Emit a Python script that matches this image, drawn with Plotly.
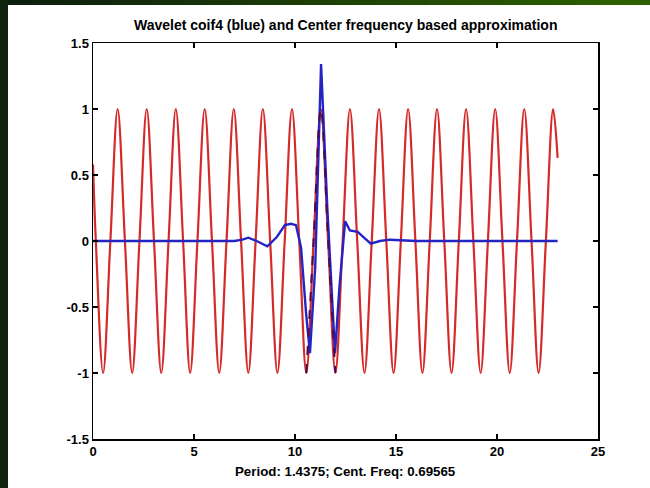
import plotly.graph_objects as go

# ---- data ----
red_x = [0.0, 0.14, 0.50, 0.86, 1.22, 1.58, 1.94, 2.30, 2.66, 3.02, 3.38, 3.74, 4.10, 4.46, 4.81,
         5.17, 5.53, 5.89, 6.25, 6.61, 6.97, 7.33, 7.69, 8.05, 8.41, 8.77, 9.13, 9.49, 9.85,
         10.21, 10.56, 10.92, 11.28, 11.64, 12.00, 12.36, 12.72, 13.08, 13.44, 13.80, 14.16,
         14.52, 14.88, 15.24, 15.60, 15.96, 16.31, 16.67, 17.03, 17.39, 17.75, 18.11, 18.47,
         18.83, 19.19, 19.55, 19.91, 20.27, 20.63, 20.99, 21.35, 21.71, 22.06, 22.42, 22.78, 23.0]
red_y = [0.58, 0, -1, 0, 1, 0, -1, 0, 1, 0, -1, 0, 1, 0, -1,
         0, 1, 0, -1, 0, 1, 0, -1, 0, 1, 0, -1, 0, 1,
         0, -1, 0, 1, 0, -1, 0, 1, 0, -1, 0, 1,
         0, -1, 0, 1, 0, -1, 0, 1, 0, -1, 0, 1,
         0, -1, 0, 1, 0, -1, 0, 1, 0, -1, 0, 1, 0.63]

blue_x = [0.0, 7.0, 7.4, 7.69, 8.1, 8.63, 9.1, 9.5, 9.8, 10.05, 10.3, 10.55, 10.74, 11.0,
          11.29, 11.6, 11.98, 12.2, 12.48, 12.72, 13.1, 13.45, 13.75, 14.2, 14.7, 16.0, 23.0]
blue_y = [0.0, 0.0, 0.01, 0.025, 0.0, -0.04, 0.03, 0.12, 0.13, 0.12, -0.05, -0.55, -0.85, -0.2,
          1.34, 0.25, -0.85, -0.35, 0.15, 0.08, 0.07, 0.02, -0.02, 0.0, 0.01, 0.0, 0.0]

approx_x = [10.56, 10.92, 11.28, 11.64, 12.00]
approx_y = [-1, 0, 1, 0, -1]

x_ticks = [0, 5, 10, 15, 20, 25]
y_ticks = [-1.5, -1, -0.5, 0, 0.5, 1, 1.5]
y_tick_text = ["-1.5", "-1", "-0.5", "0", "0.5", "1", "1.5"]

title_text = "<b>Wavelet coif4 (blue) and Center frequency based approximation</b>"
xlabel_text = "<b>Period: 1.4375; Cent. Freq: 0.69565</b>"

# ---- layout geometry (pixels) ----
W, H = 650, 488
L, R, T, B = 93, 598, 43, 439


def px_x(p):
    return (p - L) / (R - L)


def px_y(p):
    return (B - p) / (B - T)


fig = go.Figure()
fig.add_trace(go.Scatter(x=red_x, y=red_y, mode="lines", line=dict(color="#d42a2a", width=2.2, shape="spline"),
                         hoverinfo="skip"))
fig.add_trace(go.Scatter(x=blue_x, y=blue_y, mode="lines", line=dict(color="#2424c4", width=2.4),
                         hoverinfo="skip"))
fig.add_trace(go.Scatter(x=approx_x, y=approx_y, mode="lines",
                         line=dict(color="#4a0a50", width=2, dash="dash", shape="spline"), hoverinfo="skip"))

shapes = []
# left dark strip
shapes.append(dict(type="rect", xref="paper", yref="paper", x0=px_x(0), x1=px_x(8), y0=px_y(H), y1=px_y(0),
                   fillcolor="#10230f", line=dict(width=0), layer="below"))
# top gradient strip
n = 26
c0 = (14, 30, 14)
c1 = (46, 98, 0)
for i in range(n):
    t = i / (n - 1)
    c = tuple(int(c0[k] + (c1[k] - c0[k]) * t) for k in range(3))
    xa = 8 + (W - 8) * i / n
    xb = 8 + (W - 8) * (i + 1) / n + 1
    shapes.append(dict(type="rect", xref="paper", yref="paper", x0=px_x(xa), x1=px_x(xb), y0=px_y(5), y1=px_y(0),
                       fillcolor="rgb(%d,%d,%d)" % c, line=dict(width=0), layer="below"))

tick_font = dict(family="Liberation Sans, Arial, sans-serif", size=13, color="black", weight="bold")

fig.update_layout(
    width=W, height=H,
    margin=dict(l=L, r=W - R, t=T, b=H - B, pad=0),
    paper_bgcolor="white", plot_bgcolor="white",
    showlegend=False,
    shapes=shapes,
    font=dict(family="Liberation Sans, Arial, sans-serif", size=12, color="black"),
    xaxis=dict(range=[0, 25], tickvals=x_ticks, ticks="inside", ticklen=5, tickwidth=1.5, tickcolor="black",
               showline=True, linecolor="black", linewidth=1.5, mirror="ticks", showgrid=False, zeroline=False,
               tickfont=tick_font),
    yaxis=dict(range=[-1.5, 1.5], tickvals=y_ticks, ticktext=y_tick_text, ticks="inside", ticklen=5,
               tickwidth=1.5, tickcolor="black", showline=True, linecolor="black", linewidth=1.5,
               mirror="ticks", showgrid=False, zeroline=False, tickfont=tick_font),
    annotations=[
        dict(text=title_text, xref="paper", yref="paper", x=0.5, y=px_y(25), xanchor="center", yanchor="middle",
             showarrow=False, font=dict(size=14)),
        dict(text=xlabel_text, xref="paper", yref="paper", x=0.5, y=px_y(471), xanchor="center",
             yanchor="middle", showarrow=False, font=dict(size=13.3)),
    ],
)

fig.write_html("out.html", config={"displayModeBar": False, "staticPlot": True},
               post_script="document.body.style.margin='0px';document.body.style.overflow='hidden';")
